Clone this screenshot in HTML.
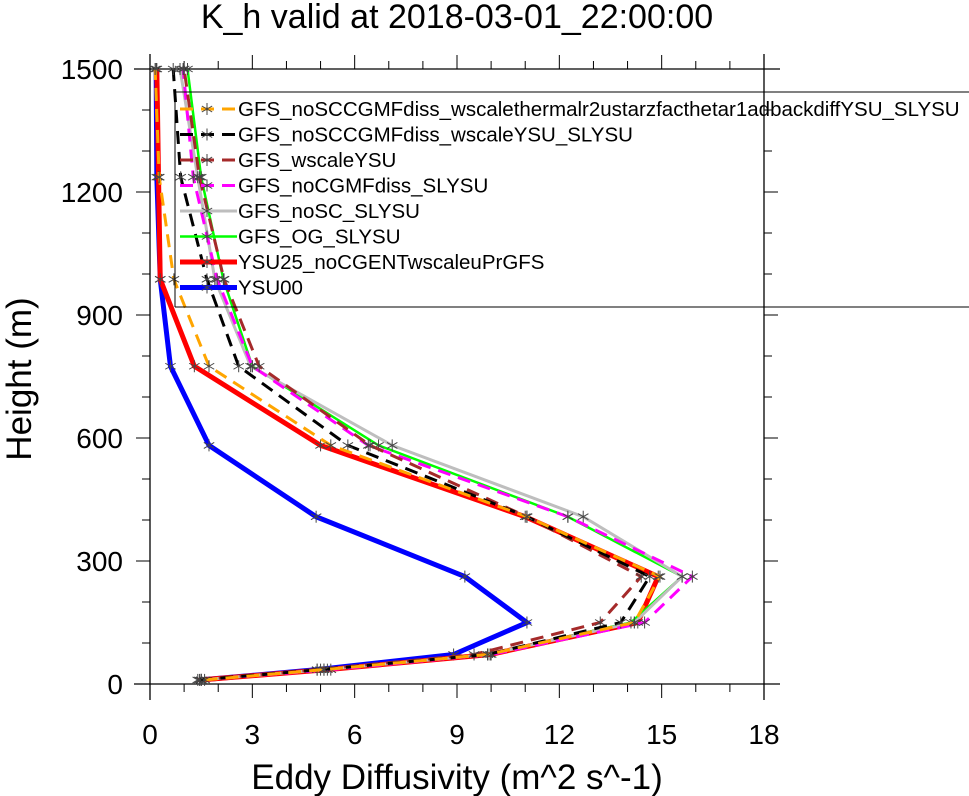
<!DOCTYPE html>
<html><head><meta charset="utf-8"><style>
html,body{margin:0;padding:0;background:#fff}
svg{display:block;font-family:"Liberation Sans",sans-serif}
</style></head><body>
<svg id="chart" width="969" height="796" viewBox="0 0 969 796" xmlns="http://www.w3.org/2000/svg">
<text x="457" y="28" font-size="34" text-anchor="middle">K_h valid at 2018-03-01_22:00:00</text>
<text transform="translate(31,379) rotate(-90)" font-size="35" text-anchor="middle">Height (m)</text>
<text x="457" y="789" font-size="35" text-anchor="middle">Eddy Diffusivity (m^2 s^-1)</text>
<g id="axes"></g>
<g id="series"></g>
<g id="legend"></g>
</svg>
<script>
const heights = [10, 35, 72, 150, 262, 408, 582, 775, 987, 1236, 1500];
const xTicks = [0, 3, 6, 9, 12, 15, 18];
const yTicks = [0, 300, 600, 900, 1200, 1500];
const names = ["GFS_noSCCGMFdiss_wscalethermalr2ustarzfacthetar1adbackdiffYSU_SLYSU","GFS_noSCCGMFdiss_wscaleYSU_SLYSU","GFS_wscaleYSU","GFS_noCGMFdiss_SLYSU","GFS_noSC_SLYSU","GFS_OG_SLYSU","YSU25_noCGENTwscaleuPrGFS","YSU00"];
const sOrange = [1.6, 5.1, 9.9, 14.2, 14.95, 11.05, 5.3, 1.73, 0.7, 0.27, 0.15];
const sBlack  = [1.45, 5.0, 9.9, 13.8, 14.65, 11.05, 5.8, 2.6, 1.67, 0.9, 0.68];
const sBrown  = [1.4, 4.9, 9.5, 13.2, 14.4, 11.05, 6.45, 3.2, 2.17, 1.45, 1.0];
const sMagenta= [1.5, 5.3, 10.0, 14.5, 15.9, 12.25, 6.4, 3.0, 1.97, 1.27, 0.97];
const sGray   = [1.5, 5.1, 9.9, 14.2, 15.6, 12.7, 7.1, 2.95, 1.9, 1.4, 0.88];
const sGreen  = [1.5, 5.1, 9.9, 14.1, 15.6, 12.25, 6.7, 3.0, 2.15, 1.5, 1.1];
const sRed    = [1.5, 5.2, 9.97, 14.3, 14.9, 11.0, 5.0, 1.3, 0.3, 0.25, 0.2];
const sBlue   = [1.5, 4.9, 8.9, 11.05, 9.23, 4.87, 1.73, 0.6, 0.3, 0.2, 0.18];

const NS="http://www.w3.org/2000/svg";
const X0=150,X1=764,Y0=684,Y1=69;
const xs=v=>X0+(v-0)/18*(X1-X0);
const ys=v=>Y0-(v-0)/1500*(Y0-Y1);
function el(tag,attrs,parent){const e=document.createElementNS(NS,tag);for(const k in attrs)e.setAttribute(k,attrs[k]);parent.appendChild(e);return e;}
const axes=document.getElementById('axes');
let l;
l=el('line',{x1:X0,y1:54,x2:X0,y2:700,stroke:'#000','stroke-width':1.3},axes);


l=el('line',{x1:134,y1:Y0,x2:780,y2:Y0,stroke:'#000','stroke-width':1.3},axes);


l=el('line',{x1:X1,y1:54,x2:X1,y2:700,stroke:'#000','stroke-width':1.3},axes);


l=el('line',{x1:134,y1:Y1,x2:780,y2:Y1,stroke:'#000','stroke-width':1.3},axes);


for(let v=0;v<=18;v+=1){const x=xs(v);const major=v%3===0;
 el('line',{x1:x,y1:Y0,x2:x,y2:Y0+(major?14:8),stroke:'#000','stroke-width':1},axes);
 el('line',{x1:x,y1:Y1,x2:x,y2:Y1-(major?14:8),stroke:'#000','stroke-width':1},axes);}
xTicks.forEach(v=>{const t=el('text',{x:xs(v),y:744,'font-size':28,'text-anchor':'middle'},axes);t.textContent=v;
 
 });
for(let v=0;v<=1500;v+=100){const y=ys(v);const major=v%300===0;
 el('line',{x1:X0,y1:y,x2:X0-(major?14:8),y2:y,stroke:'#000','stroke-width':1},axes);
 el('line',{x1:X1,y1:y,x2:X1+(major?14:8),y2:y,stroke:'#000','stroke-width':1},axes);}
yTicks.forEach(v=>{const t=el('text',{x:123,y:ys(v)+10,'font-size':28,'text-anchor':'end'},axes);t.textContent=v;
 
 });

const styles=[
 {d:sOrange,c:'#ffa500',w:3,dash:'13 8'},
 {d:sBlack,c:'#000',w:3,dash:'13 8'},
 {d:sBrown,c:'#a52a2a',w:3,dash:'13 8'},
 {d:sMagenta,c:'#ff00ff',w:3,dash:'13 8'},
 {d:sGray,c:'#bebebe',w:3,dash:''},
 {d:sGreen,c:'#00ff00',w:2.5,dash:''},
 {d:sRed,c:'#ff0000',w:5,dash:''},
 {d:sBlue,c:'#0000ff',w:5,dash:''}
];
const keys=['orange','black','brown','magenta','gray','green','red','blue'];
const ser=document.getElementById('series');
function star(x,y,g){for(let a=0;a<3;a++){const ang=Math.PI/2+a*Math.PI/3;const dx=6*Math.cos(ang),dy=6*Math.sin(ang);
 el('line',{x1:x-dx,y1:y-dy,x2:x+dx,y2:y+dy,stroke:'#444','stroke-width':1},g);}}
styles.slice().reverse().forEach((s,ri)=>{const i=styles.length-1-ri;
 const g=el('g',{},ser);
 
 
 const pts=s.d.map((v,j)=>xs(v)+','+ys(heights[j])).join(' ');
 const p=el('polyline',{points:pts,fill:'none',stroke:s.c,'stroke-width':s.w,'stroke-dasharray':s.dash,'stroke-linejoin':'miter'},g);
 
 
 s.d.forEach((v,j)=>star(xs(v),ys(heights[j]),g));
});
const lg=document.getElementById('legend');
el('line',{x1:175,y1:92,x2:969,y2:92,stroke:'#000','stroke-width':1},lg);
el('line',{x1:175,y1:307,x2:969,y2:307,stroke:'#000','stroke-width':1},lg);
el('line',{x1:175,y1:92,x2:175,y2:307,stroke:'#000','stroke-width':1},lg);
names.forEach((n,i)=>{const y=109+i*25.5;const s=styles[i];
 const g=el('g',{},lg);
 
 
 el('line',{x1:180,y1:y,x2:237,y2:y,stroke:s.c,'stroke-width':s.w,'stroke-dasharray':s.dash},g);
 star(207,y,g);
 const t=el('text',{x:238,y:y+7,'font-size':20.5},g);t.textContent=n;
});
</script>
</body></html>
